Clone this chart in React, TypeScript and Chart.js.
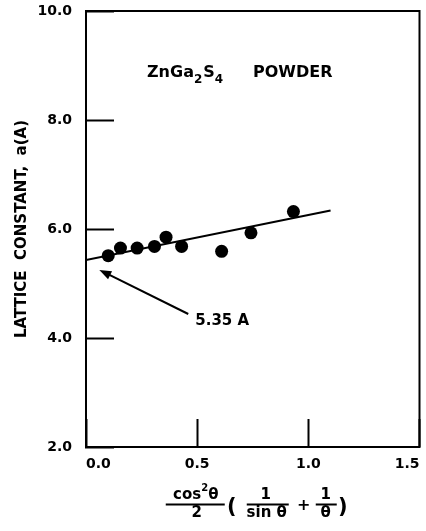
import { useEffect, useRef } from "react";
import { Chart, registerables } from "chart.js";

Chart.register(...registerables);

// ---- data ----
const X_VALUES = [0.1, 0.155, 0.23, 0.308, 0.36, 0.43, 0.61, 0.742, 0.933];
const Y_VALUES = [5.51, 5.65, 5.65, 5.68, 5.85, 5.68, 5.59, 5.93, 6.32];
const FIT_X = [0, 1.1];
const FIT_Y = [5.43, 6.34];
const X_TICKS = [0, 0.5, 1.0, 1.5];
const Y_TICKS = [2, 4, 6, 8, 10];
const Y_LABEL = "LATTICE  CONSTANT,  a(A)";
const TITLE_FORMULA = ["ZnGa", "2", "S", "4"];
const TITLE_WORD = "POWDER";
const ANNOTATION_TEXT = "5.35 A";
const ARROW_TIP = [0.06, 5.25];
const ARROW_TAIL = [0.46, 4.44];

const FONT = "'DejaVu Sans', sans-serif";
const f = (size: number) => `bold ${size}px ${FONT}`;

const overlay = {
  id: "overlay",
  afterDraw(chart: any) {
    const { ctx, chartArea: a, scales } = chart;
    const x = scales.x;
    const y = scales.y;
    ctx.save();
    ctx.strokeStyle = "#000";
    ctx.fillStyle = "#000";
    ctx.lineWidth = 2;
    // top & right frame
    ctx.beginPath();
    ctx.moveTo(a.left, a.top);
    ctx.lineTo(a.right, a.top);
    ctx.lineTo(a.right, a.bottom);
    ctx.stroke();

    // title
    ctx.textAlign = "left";
    ctx.textBaseline = "alphabetic";
    let tx = a.left + 61;
    const tb = a.top + 66;
    ctx.font = f(16);
    ctx.fillText(TITLE_FORMULA[0], tx, tb);
    tx += ctx.measureText(TITLE_FORMULA[0]).width;
    ctx.font = f(12);
    ctx.fillText(TITLE_FORMULA[1], tx, tb + 6);
    tx += ctx.measureText(TITLE_FORMULA[1]).width + 1;
    ctx.font = f(16);
    ctx.fillText(TITLE_FORMULA[2], tx, tb);
    tx += ctx.measureText(TITLE_FORMULA[2]).width;
    ctx.font = f(12);
    ctx.fillText(TITLE_FORMULA[3], tx, tb + 6);
    ctx.font = f(16);
    ctx.fillText(TITLE_WORD, a.left + 167, tb);

    // arrow annotation
    const tipX = x.getPixelForValue(ARROW_TIP[0]);
    const tipY = y.getPixelForValue(ARROW_TIP[1]);
    const tailX = x.getPixelForValue(ARROW_TAIL[0]);
    const tailY = y.getPixelForValue(ARROW_TAIL[1]);
    const ang = Math.atan2(tipY - tailY, tipX - tailX);
    const hl = 12;
    const hw = 4.5;
    ctx.beginPath();
    ctx.moveTo(tailX, tailY);
    ctx.lineTo(tipX - Math.cos(ang) * hl * 0.8, tipY - Math.sin(ang) * hl * 0.8);
    ctx.stroke();
    ctx.beginPath();
    ctx.moveTo(tipX, tipY);
    ctx.lineTo(
      tipX - Math.cos(ang) * hl - Math.sin(ang) * hw,
      tipY - Math.sin(ang) * hl + Math.cos(ang) * hw
    );
    ctx.lineTo(
      tipX - Math.cos(ang) * hl + Math.sin(ang) * hw,
      tipY - Math.sin(ang) * hl - Math.cos(ang) * hw
    );
    ctx.closePath();
    ctx.fill();
    ctx.font = f(15);
    ctx.fillText(ANNOTATION_TEXT, tailX + 7, tailY + 11);

    // x axis title: cos^2θ/2 (1/sinθ + 1/θ)
    const ox = (a.left + a.right) / 2 - 254;
    const oy = a.bottom - 448;
    ctx.textAlign = "left";
    ctx.font = f(15);
    const cosW = ctx.measureText("cos").width;
    ctx.font = f(10);
    const supW = ctx.measureText("2").width;
    ctx.font = f(15);
    const thW = ctx.measureText("θ").width;
    let sx = ox + 197 - (cosW + supW + thW) / 2;
    ctx.fillText("cos", sx, oy + 500);
    sx += cosW;
    ctx.font = f(10);
    ctx.fillText("2", sx, oy + 492);
    sx += supW;
    ctx.font = f(15);
    ctx.fillText("θ", sx, oy + 500);
    ctx.textAlign = "center";
    ctx.fillText("2", ox + 198, oy + 518);
    ctx.fillText("1", ox + 267, oy + 500);
    ctx.fillText("sin θ", ox + 268, oy + 518);
    ctx.fillText("1", ox + 327, oy + 500);
    ctx.fillText("θ", ox + 327, oy + 518);
    ctx.font = f(16);
    ctx.fillText("+", ox + 305, oy + 511);
    ctx.font = `bold 21px ${FONT}`;
    ctx.fillText("(", ox + 233, oy + 514);
    ctx.fillText(")", ox + 344, oy + 514);
    ctx.lineWidth = 1.8;
    ctx.beginPath();
    ctx.moveTo(ox + 167, oy + 505.5);
    ctx.lineTo(ox + 226, oy + 505.5);
    ctx.moveTo(ox + 248, oy + 505.5);
    ctx.lineTo(ox + 290, oy + 505.5);
    ctx.moveTo(ox + 317, oy + 505.5);
    ctx.lineTo(ox + 338, oy + 505.5);
    ctx.stroke();
    ctx.restore();
  },
};

export default function App() {
  const ref = useRef<HTMLCanvasElement>(null);
  useEffect(() => {
    document.body.style.margin = "0";
    document.body.style.background = "#fff";
    const chart = new Chart(ref.current as HTMLCanvasElement, {
      type: "scatter",
      data: {
        datasets: [
          {
            type: "line",
            data: FIT_X.map((v, i) => ({ x: v, y: FIT_Y[i] })),
            borderColor: "#000",
            borderWidth: 2,
            pointRadius: 0,
            fill: false,
          } as any,
          {
            type: "scatter",
            data: X_VALUES.map((v, i) => ({ x: v, y: Y_VALUES[i] })),
            backgroundColor: "#000",
            borderColor: "#000",
            borderWidth: 0,
            pointRadius: 6.5,
          },
        ],
      },
      options: {
        animation: false,
        responsive: false,
        devicePixelRatio: 1,
        layout: { padding: { left: 0, top: 11, right: 5, bottom: 0 } },
        plugins: { legend: { display: false }, tooltip: { enabled: false } },
        scales: {
          x: {
            type: "linear",
            min: 0,
            max: 1.5,
            afterBuildTicks: (s: any) => {
              s.ticks = X_TICKS.map((v) => ({ value: v }));
            },
            afterFit: (s: any) => {
              s.height = 84;
              s.paddingLeft = 0;
              s.paddingRight = 0;
              s.paddingTop = 0;
              s.paddingBottom = 0;
            },
            ticks: {
              align: "inner",
              padding: 37,
              color: "#000",
              font: { family: FONT, size: 14, weight: "bold" },
              callback: (v: any) => Number(v).toFixed(1),
            },
            grid: {
              drawOnChartArea: false,
              drawTicks: true,
              tickLength: -28,
              tickColor: "#000",
              tickWidth: 2,
            },
            border: { display: true, color: "#000", width: 2 },
          },
          y: {
            type: "linear",
            min: 2,
            max: 10,
            afterBuildTicks: (s: any) => {
              s.ticks = Y_TICKS.map((v) => ({ value: v }));
            },
            afterFit: (s: any) => {
              s.width = 86;
              s.paddingLeft = 0;
              s.paddingRight = 0;
              s.paddingTop = 0;
              s.paddingBottom = 0;
            },
            ticks: {
              padding: 42,
              color: "#000",
              font: { family: FONT, size: 14, weight: "bold" },
              callback: (v: any) => Number(v).toFixed(1),
            },
            grid: {
              drawOnChartArea: false,
              drawTicks: true,
              tickLength: -28,
              tickColor: "#000",
              tickWidth: 2,
            },
            border: { display: true, color: "#000", width: 2 },
            title: {
              display: true,
              text: Y_LABEL,
              color: "#000",
              font: { family: FONT, size: 15, weight: "bold" },
              padding: { top: 13, bottom: 0 },
            },
          },
        },
      },
      plugins: [overlay],
    });
    return () => chart.destroy();
  }, []);
  return (
    <div style={{ width: 426, height: 531 }}>
      <canvas
        ref={ref}
        width={426}
        height={531}
        style={{ display: "block", width: 426, height: 531 }}
      />
    </div>
  );
}
